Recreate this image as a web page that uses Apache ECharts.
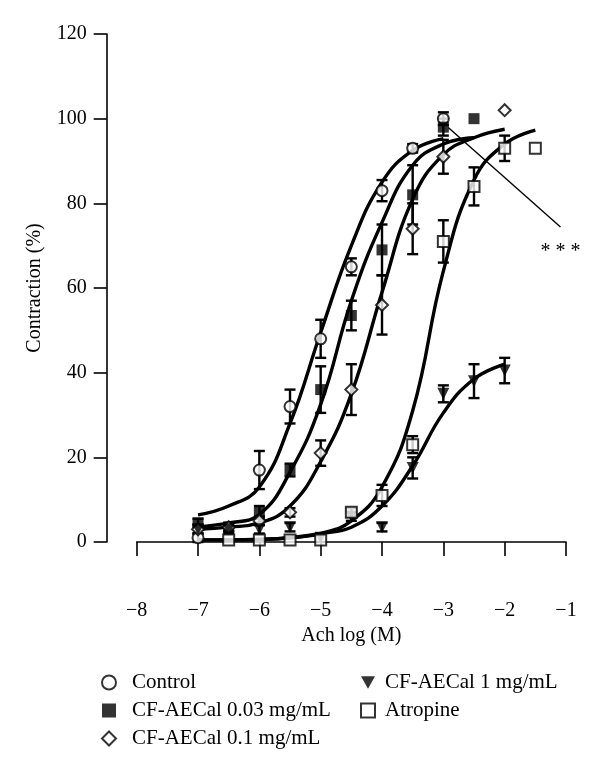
<!DOCTYPE html>
<html>
<head>
<meta charset="utf-8">
<script src="https://cdn.jsdelivr.net/npm/echarts@6/dist/echarts.min.js"></script>
<style>html,body{margin:0;padding:0;background:#fff}#c{width:600px;height:771px}</style>
</head>
<body>
<div id="c"></div>
<script>
// ---- data ----
const controlX = [-7, -6, -5.5, -5, -4.5, -4, -3.5, -3];
const controlY = [1, 17, 32, 48, 65, 83, 93, 100];
const controlErr = [1, 4.5, 4, 4.5, 2, 2.5, 1, 1.5];

const sq03X = [-7, -6.5, -6, -5.5, -5, -4.5, -4, -3.5, -3, -2.5];
const sq03Y = [4.5, 3.5, 7, 17, 36, 53.5, 69, 82, 98, 100];
const sq03Err = [1, 1, 1.5, 1.5, 5.5, 3.5, 6, 7, 2, 0];

const d01X = [-7, -6.5, -6, -5.5, -5, -4.5, -4, -3.5, -3, -2];
const d01Y = [3, 3.5, 5, 7, 21, 36, 56, 74, 91, 102];
const d01Err = [1, 1, 1, 1, 3, 6, 7, 6, 4, 0];

const tri1X = [-7, -6.5, -6, -5.5, -5, -4.5, -4, -3.5, -3, -2.5, -2];
const tri1Y = [3, 3, 3, 3.5, 1, 6, 3.5, 17.5, 35, 38, 40.5];
const tri1Err = [1, 1, 1, 1, 1, 1, 1, 2.5, 2, 4, 3];

const atrX = [-6.5, -6, -5.5, -5, -4.5, -4, -3.5, -3, -2.5, -2, -1.5];
const atrY = [0.5, 0.5, 0.5, 0.5, 7, 11, 23, 71, 84, 93, 93];
const atrErr = [0, 0, 0, 0, 1, 2.5, 2, 5, 4.5, 3, 0];

// fitted curves
const ctrlFitX = [-7, -6.5, -6, -5.5, -5, -4.5, -4, -3.5, -3];
const ctrlFitY = [6.4, 8.5, 13, 28, 49.5, 70, 85, 92.5, 95.3];
const sq03FitX = [-7, -6.5, -6, -5.5, -5, -4.5, -4, -3.5, -3, -2.5];
const sq03FitY = [3.6, 4.5, 6.5, 16.5, 32.5, 57, 75.5, 89, 94, 95.5];
const d01FitX = [-7, -6.5, -6, -5.5, -5, -4.5, -4, -3.5, -3, -2.5, -2];
const d01FitY = [3, 3.5, 4.5, 8.5, 19, 35, 59, 81, 91.5, 95.5, 97.5];
const tri1FitX = [-7, -6.5, -6, -5.5, -5, -4.5, -4, -3.5, -3, -2.5, -2];
const tri1FitY = [0.5, 0.5, 0.6, 1, 2, 3.5, 8.5, 18, 30.5, 38.5, 42];
const atrFitX = [-7, -6.5, -6, -5.5, -5, -4.5, -4, -3.5, -3, -2.5, -2, -1.5];
const atrFitY = [0.5, 0.5, 0.6, 1, 2, 5, 13, 31, 64, 85.5, 94, 97.3];

// annotation ("***" pointing at the two curves)
const annotLine1 = [[-2.92, 97.9], [-1.09, 74.4]];
const annotLine2 = [[-0.96, 65], [-1.96, 40.6]];
const starPos = [-1.09, 68.5];
const starText = '* * *';

const names = ['Control', 'CF-AECal 0.03 mg/mL', 'CF-AECal 0.1 mg/mL', 'CF-AECal 1 mg/mL', 'Atropine'];
const xTicks = [-8, -7, -6, -5, -4, -3, -2, -1];
const yTicks = [0, 20, 40, 60, 80, 100, 120];

// ---- build ----
const FONT = 'Liberation Serif';
const BLK = '#000';
const zip = (a, b) => a.map((v, i) => [v, b[i]]);
const errData = (x, y, e) => x.map((v, i) => [v, y[i] - e[i], y[i] + e[i]]);

const groups = [
  {name: names[0], x: controlX, y: controlY, e: controlErr, fx: ctrlFitX, fy: ctrlFitY, symbol: 'circle', fill: '#fff', size: 11},
  {name: names[1], x: sq03X, y: sq03Y, e: sq03Err, fx: sq03FitX, fy: sq03FitY, symbol: 'rect', fill: '#000', size: 11},
  {name: names[2], x: d01X, y: d01Y, e: d01Err, fx: d01FitX, fy: d01FitY, symbol: 'diamond', fill: '#fff', size: 12},
  {name: names[3], x: tri1X, y: tri1Y, e: tri1Err, fx: tri1FitX, fy: tri1FitY, symbol: 'path://M0,0L10,0L5,9Z', fill: '#000', size: 12},
  {name: names[4], x: atrX, y: atrY, e: atrErr, fx: atrFitX, fy: atrFitY, symbol: 'rect', fill: '#fff', size: 11}
];

const series = [];
groups.forEach((g, gi) => {
  series.push({
    name: 'fit' + gi, type: 'line', data: zip(g.fx, g.fy), smooth: 0.45,
    showSymbol: false, symbol: 'none', lineStyle: {color: BLK, width: 3.4}, z: 2, silent: true
  });
  series.push({
    name: 'err' + gi, type: 'custom', data: errData(g.x, g.y, g.e), z: 3, silent: true,
    renderItem: function (params, api) {
      const x = api.value(0), lo = api.value(1), hi = api.value(2);
      if (hi - lo <= 0) return null;
      const p1 = api.coord([x, lo]), p2 = api.coord([x, hi]);
      const w = 5.5, st = {stroke: BLK, lineWidth: 2.4};
      return {type: 'group', children: [
        {type: 'line', shape: {x1: p1[0], y1: p1[1], x2: p2[0], y2: p2[1]}, style: st},
        {type: 'line', shape: {x1: p1[0] - w, y1: p1[1], x2: p1[0] + w, y2: p1[1]}, style: st},
        {type: 'line', shape: {x1: p2[0] - w, y1: p2[1], x2: p2[0] + w, y2: p2[1]}, style: st}
      ]};
    }
  });
  series.push({
    name: g.name, type: 'scatter', data: zip(g.x, g.y), symbol: g.symbol, symbolSize: g.size, z: 4,
    itemStyle: {color: g.fill, borderColor: BLK, borderWidth: g.fill === '#fff' ? 2 : 0}
  });
});

series.push({
  name: 'annot', type: 'line', data: [], clip: false, silent: true, z: 5,
  markLine: {
    silent: true, symbol: ['none', 'none'], animation: false,
    lineStyle: {color: BLK, width: 1.4, type: 'solid'}, label: {show: false},
    data: [
      [{coord: annotLine1[0]}, {coord: annotLine1[1]}],
      [{coord: annotLine2[0]}, {coord: annotLine2[1]}]
    ]
  },
  markPoint: {
    silent: true, symbol: 'circle', symbolSize: 0, animation: false,
    label: {show: true, position: 'inside', formatter: starText, color: BLK, fontFamily: FONT, fontSize: 20},
    data: [{coord: starPos}]
  }
});

const legendBase = {
  orient: 'vertical', itemWidth: 14, itemHeight: 14, itemGap: 7, selectedMode: false, padding: 0
};
const legendText = padLeft => ({fontFamily: FONT, fontSize: 21, lineHeight: 14, color: BLK, padding: [0, 0, 0, padLeft]});

const fmtNum = v => (v < 0 ? '\u2212' : '') + Math.abs(v);

const option = {
  animation: false,
  backgroundColor: '#fff',
  grid: {left: 136.7, right: 34, top: 34, bottom: 229, containLabel: false},
  xAxis: {
    type: 'value', min: xTicks[0], max: xTicks[xTicks.length - 1], interval: 1, offset: 32,
    name: 'Ach log (M)', nameLocation: 'middle', nameGap: 50,
    nameTextStyle: {fontFamily: FONT, fontSize: 20, color: BLK},
    axisLine: {show: true, lineStyle: {color: BLK, width: 1.6}},
    axisTick: {show: true, length: 14, lineStyle: {color: BLK, width: 1.6}},
    axisLabel: {fontFamily: FONT, fontSize: 20, color: BLK, margin: 27, formatter: fmtNum},
    splitLine: {show: false}
  },
  yAxis: {
    type: 'value', min: yTicks[0], max: yTicks[yTicks.length - 1], interval: 20, offset: 30,
    name: 'Contraction (%)', nameLocation: 'middle', nameGap: 62, nameRotate: 90,
    nameTextStyle: {fontFamily: FONT, fontSize: 20, color: BLK},
    axisLine: {show: true, lineStyle: {color: BLK, width: 1.6}},
    axisTick: {show: true, length: 13, lineStyle: {color: BLK, width: 1.6}},
    axisLabel: {fontFamily: FONT, fontSize: 20, color: BLK, margin: 20, formatter: fmtNum},
    splitLine: {show: false}
  },
  legend: [
    Object.assign({}, legendBase, {left: 101, top: 672, data: names.slice(0, 3), textStyle: legendText(11)}),
    Object.assign({}, legendBase, {left: 360, top: 672, data: names.slice(3), textStyle: legendText(5)})
  ],
  series: series
};

const chart = echarts.init(document.getElementById('c'), null, {renderer: 'canvas'});
chart.setOption(option);
</script>
</body>
</html>
